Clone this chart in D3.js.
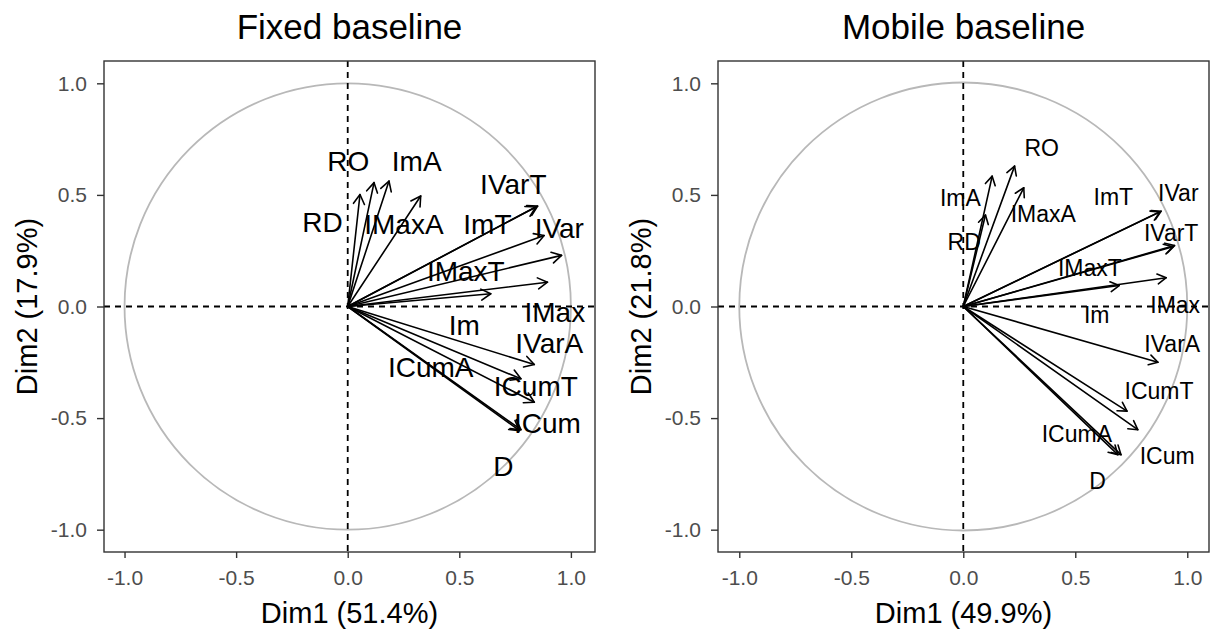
<!DOCTYPE html>
<html>
<head>
<meta charset="utf-8">
<script src="https://cdn.jsdelivr.net/npm/d3@7"></script>
<style>
  body { margin: 0; background: #fff; }
  svg { display: block; }
  text { font-family: "Liberation Sans", Arial, sans-serif; }
</style>
</head>
<body>
<svg id="chart" width="1213" height="635"></svg>
<script>
// Variable loadings on the first two PCA dimensions (correlation circle)
const variables = ["RD", "RO", "ImA", "IMaxA", "IVarT", "ImT", "IVar", "IMaxT", "IMax", "Im", "IVarA", "ICumA", "ICumT", "ICum", "D"];

// Fixed baseline
const fixedDim1 = [0.055, 0.118, 0.185, 0.327, 0.851, 0.843, 0.880, 0.958, 0.895, 0.641, 0.836, 0.776, 0.836, 0.776, 0.770];
const fixedDim2 = [0.502, 0.555, 0.562, 0.495, 0.450, 0.446, 0.318, 0.229, 0.109, 0.057, -0.260, -0.324, -0.429, -0.552, -0.556];
// repelled label anchors (Dim units)
const fixedLabelX = [-0.113, 0.002, 0.309, 0.252, 0.742, 0.626, 0.948, 0.529, 0.928, 0.522, 0.903, 0.372, 0.843, 0.895, 0.697];
const fixedLabelY = [0.377, 0.652, 0.652, 0.368, 0.547, 0.368, 0.350, 0.161, -0.025, -0.081, -0.163, -0.271, -0.354, -0.522, -0.713];

// Mobile baseline
const mobileDim1 = [0.099, 0.229, 0.129, 0.270, 0.943, 0.878, 0.883, 0.936, 0.906, 0.696, 0.869, 0.704, 0.731, 0.779, 0.690];
const mobileDim2 = [0.410, 0.629, 0.584, 0.532, 0.273, 0.424, 0.427, 0.268, 0.129, 0.094, -0.250, -0.664, -0.469, -0.552, -0.664];
const mobileLabelX = [0.004, 0.350, -0.013, 0.357, 0.928, 0.670, 0.960, 0.565, 0.946, 0.596, 0.933, 0.507, 0.874, 0.910, 0.600];
const mobileLabelY = [0.291, 0.713, 0.489, 0.417, 0.330, 0.493, 0.511, 0.173, 0.009, -0.036, -0.166, -0.570, -0.377, -0.668, -0.780];

const panelTitles = ["Fixed baseline", "Mobile baseline"];
const xTitles = ["Dim1 (51.4%)", "Dim1 (49.9%)"];
const yTitles = ["Dim2 (17.9%)", "Dim2 (21.8%)"];
const tickValues = [-1.0, -0.5, 0.0, 0.5, 1.0];

const svg = d3.select("#chart");
svg.append("rect").attr("width", 1213).attr("height", 635).attr("fill", "#fff");

const fmt = d3.formatLocale({ decimal: ".", thousands: ",", grouping: [3], currency: ["", ""], minus: "-" }).format(".1f");

const plotTop = 61, plotSize = 491;

const panels = [
  { left: 104, xDomain: [-1.092, 1.108], dim1: fixedDim1, dim2: fixedDim2, lx: fixedLabelX, ly: fixedLabelY, labelSize: 28, head: 11 },
  { left: 718, xDomain: [-1.095, 1.097], dim1: mobileDim1, dim2: mobileDim2, lx: mobileLabelX, ly: mobileLabelY, labelSize: 23, head: 10 }
];

panels.forEach((p, pi) => {
  const x = d3.scaleLinear().domain(p.xDomain).range([p.left, p.left + plotSize]);
  const y = d3.scaleLinear().domain([-1.1, 1.1]).range([plotTop + plotSize, plotTop]);
  const g = svg.append("g");

  // unit circle
  const r = x(1) - x(0);
  g.append("circle")
    .attr("cx", x(0)).attr("cy", y(0)).attr("r", r)
    .attr("fill", "none").attr("stroke", "#b8b8b8").attr("stroke-width", 1.8);

  // reference lines through the origin
  g.append("line")
    .attr("x1", p.left).attr("x2", p.left + plotSize)
    .attr("y1", y(0)).attr("y2", y(0))
    .attr("stroke", "#000").attr("stroke-width", 1.8).attr("stroke-dasharray", "6,5");
  g.append("line")
    .attr("x1", x(0)).attr("x2", x(0))
    .attr("y1", plotTop).attr("y2", plotTop + plotSize)
    .attr("stroke", "#000").attr("stroke-width", 1.8).attr("stroke-dasharray", "6,5");

  // arrows
  const arrows = g.append("g").attr("fill", "none").attr("stroke", "#000")
    .attr("stroke-width", 1.6).attr("stroke-linecap", "round").attr("stroke-linejoin", "round");
  variables.forEach((v, i) => {
    const x0 = x(0), y0 = y(0), x1 = x(p.dim1[i]), y1 = y(p.dim2[i]);
    arrows.append("line").attr("x1", x0).attr("y1", y0).attr("x2", x1).attr("y2", y1);
    const ang = Math.atan2(y1 - y0, x1 - x0);
    const a = Math.PI / 6;
    const pts = [
      [x1 - p.head * Math.cos(ang - a), y1 - p.head * Math.sin(ang - a)],
      [x1, y1],
      [x1 - p.head * Math.cos(ang + a), y1 - p.head * Math.sin(ang + a)]
    ];
    arrows.append("path").attr("d", d3.line()(pts));
  });

  // variable labels
  g.append("g").selectAll("text").data(variables).join("text")
    .attr("x", (d, i) => x(p.lx[i]))
    .attr("y", (d, i) => y(p.ly[i]))
    .attr("dy", "0.36em")
    .attr("text-anchor", "middle")
    .attr("font-size", p.labelSize)
    .attr("fill", "#000")
    .text(d => d);

  // panel border
  g.append("rect")
    .attr("x", p.left).attr("y", plotTop).attr("width", plotSize).attr("height", plotSize)
    .attr("fill", "none").attr("stroke", "#333").attr("stroke-width", 1.4);

  // axes
  const xAxis = g.append("g").attr("transform", `translate(0,${plotTop + plotSize})`)
    .call(d3.axisBottom(x).tickValues(tickValues).tickFormat(fmt).tickSize(6).tickPadding(12));
  const yAxis = g.append("g").attr("transform", `translate(${p.left},0)`)
    .call(d3.axisLeft(y).tickValues(tickValues).tickFormat(fmt).tickSize(7).tickPadding(10));
  [xAxis, yAxis].forEach(ax => {
    ax.select(".domain").remove();
    ax.selectAll(".tick line").attr("stroke", "#333").attr("stroke-width", 1.4);
    ax.selectAll(".tick text").attr("fill", "#4d4d4d").attr("font-size", 21)
      .attr("font-family", "\"Liberation Sans\", Arial, sans-serif");
  });

  // titles
  const cx = p.left + plotSize / 2;
  g.append("text").attr("x", cx).attr("y", 39).attr("text-anchor", "middle")
    .attr("font-size", 35).attr("fill", "#000").text(panelTitles[pi]);
  g.append("text").attr("x", cx).attr("y", 623).attr("text-anchor", "middle")
    .attr("font-size", 29).attr("fill", "#000").text(xTitles[pi]);
  g.append("text")
    .attr("transform", `translate(${p.left - 67},${plotTop + plotSize / 2}) rotate(-90)`)
    .attr("text-anchor", "middle").attr("font-size", 29).attr("fill", "#000").text(yTitles[pi]);
});
</script>
</body>
</html>
